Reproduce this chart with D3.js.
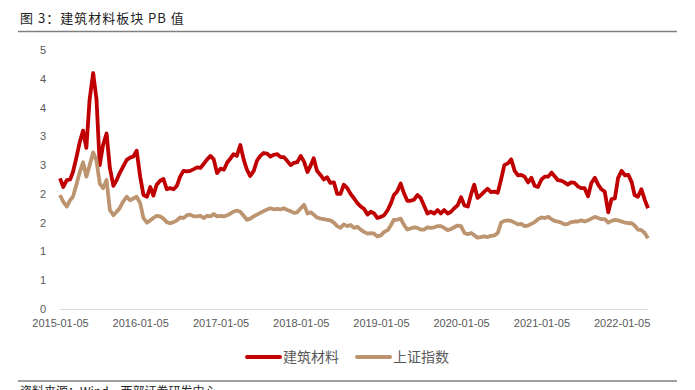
<!DOCTYPE html>
<html>
<head>
<meta charset="utf-8">
<script src="https://cdn.jsdelivr.net/npm/d3@7"></script>
<style>
  body { margin: 0; background: #fff; }
  svg { display: block; }
</style>
</head>
<body>
<div id="chart"></div>
<script>
// half-month sampling of the two PB series
var dates = [
  '2015-01-05','2015-01-20','2015-02-05','2015-02-20','2015-03-05','2015-03-20','2015-04-05','2015-04-20','2015-05-05','2015-05-20','2015-06-05','2015-06-20',
  '2015-07-05','2015-07-20','2015-08-05','2015-08-20','2015-09-05','2015-09-20','2015-10-05','2015-10-20','2015-11-05','2015-11-20','2015-12-05','2015-12-20',
  '2016-01-05','2016-01-20','2016-02-05','2016-02-20','2016-03-05','2016-03-20','2016-04-05','2016-04-20','2016-05-05','2016-05-20','2016-06-05','2016-06-20',
  '2016-07-05','2016-07-20','2016-08-05','2016-08-20','2016-09-05','2016-09-20','2016-10-05','2016-10-20','2016-11-05','2016-11-20','2016-12-05','2016-12-20',
  '2017-01-05','2017-01-20','2017-02-05','2017-02-20','2017-03-05','2017-03-20','2017-04-05','2017-04-20','2017-05-05','2017-05-20','2017-06-05','2017-06-20',
  '2017-07-05','2017-07-20','2017-08-05','2017-08-20','2017-09-05','2017-09-20','2017-10-05','2017-10-20','2017-11-05','2017-11-20','2017-12-05','2017-12-20',
  '2018-01-05','2018-01-20','2018-02-05','2018-02-20','2018-03-05','2018-03-20','2018-04-05','2018-04-20','2018-05-05','2018-05-20','2018-06-05','2018-06-20',
  '2018-07-05','2018-07-20','2018-08-05','2018-08-20','2018-09-05','2018-09-20','2018-10-05','2018-10-20','2018-11-05','2018-11-20','2018-12-05','2018-12-20',
  '2019-01-05','2019-01-20','2019-02-05','2019-02-20','2019-03-05','2019-03-20','2019-04-05','2019-04-20','2019-05-05','2019-05-20','2019-06-05','2019-06-20',
  '2019-07-05','2019-07-20','2019-08-05','2019-08-20','2019-09-05','2019-09-20','2019-10-05','2019-10-20','2019-11-05','2019-11-20','2019-12-05','2019-12-20',
  '2020-01-05','2020-01-20','2020-02-05','2020-02-20','2020-03-05','2020-03-20','2020-04-05','2020-04-20','2020-05-05','2020-05-20','2020-06-05','2020-06-20',
  '2020-07-05','2020-07-20','2020-08-05','2020-08-20','2020-09-05','2020-09-20','2020-10-05','2020-10-20','2020-11-05','2020-11-20','2020-12-05','2020-12-20',
  '2021-01-05','2021-01-20','2021-02-05','2021-02-20','2021-03-05','2021-03-20','2021-04-05','2021-04-20','2021-05-05','2021-05-20','2021-06-05','2021-06-20',
  '2021-07-05','2021-07-20','2021-08-05','2021-08-20','2021-09-05','2021-09-20','2021-10-05','2021-10-20','2021-11-05','2021-11-20','2021-12-05','2021-12-20',
  '2022-01-05','2022-01-20','2022-02-05','2022-02-20','2022-03-05','2022-03-20','2022-04-05','2022-04-20','2022-05-05'
];

var buildingMaterials = [
  2.27,2.12,2.24,2.25,2.38,2.62,2.90,3.10,2.80,3.65,4.10,3.65,
  2.50,2.85,3.05,2.45,2.14,2.24,2.37,2.48,2.59,2.63,2.65,2.75,
  2.30,1.98,1.95,2.12,1.97,2.16,2.23,2.26,2.08,2.10,2.08,2.14,
  2.30,2.40,2.39,2.40,2.43,2.46,2.45,2.52,2.60,2.66,2.60,2.36,
  2.44,2.42,2.55,2.62,2.69,2.66,2.85,2.60,2.42,2.31,2.40,2.58,
  2.66,2.71,2.70,2.65,2.68,2.69,2.64,2.64,2.57,2.50,2.54,2.55,
  2.66,2.56,2.38,2.50,2.62,2.40,2.33,2.25,2.29,2.19,2.20,2.00,
  2.00,2.16,2.10,2.00,1.92,1.84,1.78,1.74,1.64,1.69,1.66,1.58,
  1.60,1.63,1.72,1.84,1.98,2.04,2.18,2.01,1.88,1.88,1.90,1.98,
  1.93,1.80,1.66,1.69,1.66,1.72,1.66,1.72,1.66,1.69,1.75,1.80,
  1.94,1.80,1.78,2.00,2.16,1.93,1.98,2.04,2.09,2.03,2.04,2.02,
  2.25,2.50,2.53,2.60,2.40,2.32,2.33,2.30,2.20,2.28,2.14,2.12,
  2.25,2.30,2.30,2.37,2.31,2.24,2.23,2.20,2.16,2.20,2.19,2.13,
  2.10,2.10,1.96,2.19,2.28,2.16,2.08,2.04,1.68,1.91,1.92,2.28,
  2.40,2.32,2.33,2.20,1.98,1.95,2.08,1.90,1.75
];

var shanghaiIndex = [
  1.98,1.86,1.78,1.89,1.95,2.15,2.38,2.55,2.30,2.50,2.72,2.58,
  2.18,2.10,2.24,1.72,1.63,1.69,1.76,1.87,1.95,1.89,1.92,1.95,
  1.84,1.58,1.50,1.54,1.58,1.62,1.61,1.57,1.51,1.49,1.51,1.54,
  1.59,1.58,1.63,1.64,1.61,1.61,1.62,1.58,1.62,1.61,1.65,1.61,
  1.62,1.61,1.63,1.66,1.69,1.71,1.69,1.62,1.55,1.57,1.61,1.64,
  1.67,1.70,1.73,1.75,1.73,1.74,1.73,1.75,1.72,1.70,1.67,1.68,
  1.75,1.81,1.66,1.68,1.64,1.59,1.57,1.56,1.55,1.54,1.50,1.44,
  1.41,1.47,1.44,1.46,1.41,1.43,1.38,1.34,1.31,1.32,1.31,1.26,
  1.28,1.34,1.37,1.46,1.55,1.55,1.57,1.46,1.38,1.40,1.42,1.41,
  1.38,1.38,1.42,1.41,1.42,1.44,1.44,1.41,1.37,1.39,1.42,1.45,
  1.44,1.32,1.30,1.32,1.28,1.24,1.25,1.26,1.25,1.27,1.28,1.32,
  1.50,1.53,1.54,1.53,1.50,1.47,1.48,1.44,1.45,1.48,1.51,1.56,
  1.59,1.58,1.60,1.56,1.53,1.52,1.50,1.47,1.48,1.51,1.52,1.52,
  1.54,1.52,1.54,1.57,1.60,1.58,1.56,1.56,1.50,1.53,1.55,1.54,
  1.52,1.50,1.49,1.49,1.45,1.38,1.37,1.32,1.23
];

var seriesNames = ['建筑材料', '上证指数'];
var seriesColors = ['#C00000', '#BC9570'];
var yTicks = [0, 0.5, 1, 1.5, 2, 2.5, 3, 3.5, 4, 4.5];
var xTicks = ['2015-01-05','2016-01-05','2017-01-05','2018-01-05','2019-01-05','2020-01-05','2021-01-05','2022-01-05'];

var width = 695, height = 390;
var parse = d3.timeParse('%Y-%m-%d');
var cjk = '"Noto Sans CJK SC", "Noto Sans", sans-serif';

var svg = d3.select('#chart').append('svg')
  .attr('width', width)
  .attr('height', height);

// header and footer rules
svg.append('text')
  .attr('x', 20)
  .attr('y', 23)
  .attr('font-family', cjk)
  .attr('font-size', 13)
  .attr('letter-spacing', 1)
  .attr('fill', '#222')
  .text('图 3：建筑材料板块 PB 值');

svg.append('line')
  .attr('x1', 18).attr('x2', 677)
  .attr('y1', 31.5).attr('y2', 31.5)
  .attr('stroke', '#7f7f7f')
  .attr('stroke-width', 1.5);

svg.append('line')
  .attr('x1', 18).attr('x2', 677)
  .attr('y1', 381).attr('y2', 381)
  .attr('stroke', '#7f7f7f')
  .attr('stroke-width', 1.5);

// source line sits at the bottom edge, clipped like in the original page
svg.append('text')
  .attr('x', 20)
  .attr('y', 396)
  .attr('font-family', cjk)
  .attr('font-size', 12)
  .attr('fill', '#222')
  .text('资料来源：Wind，西部证券研发中心');

// scales
var x = d3.scaleTime()
  .domain([parse(dates[0]), parse(dates[dates.length - 1])])
  .range([60, 648]);

var y = d3.scaleLinear()
  .domain([0, 4.5])
  .range([309, 50]);

// y axis (labels only)
var yAxis = svg.append('g')
  .attr('transform', 'translate(46,0)')
  .call(d3.axisLeft(y).tickValues(yTicks).tickSize(0).tickPadding(0)
    .tickFormat(function(d) { return String(Math.round(d)); }));
yAxis.select('.domain').remove();
yAxis.selectAll('text')
  .attr('font-family', '"Liberation Sans", Arial, sans-serif')
  .attr('font-size', 11)
  .attr('fill', '#595959');

// x axis
var xAxis = svg.append('g')
  .attr('transform', 'translate(0,309)')
  .call(d3.axisBottom(x).tickValues(xTicks.map(parse)).tickSize(0).tickPadding(10)
    .tickFormat(d3.timeFormat('%Y-%m-%d')));
xAxis.select('.domain')
  .attr('stroke', '#d9d9d9')
  .attr('stroke-width', 1);
xAxis.selectAll('text')
  .attr('font-family', '"Liberation Sans", Arial, sans-serif')
  .attr('font-size', 11)
  .attr('fill', '#595959');

// lines
var line = d3.line()
  .x(function(d) { return x(d.date); })
  .y(function(d) { return y(d.value); });

[buildingMaterials, shanghaiIndex].forEach(function(values, i) {
  var data = values.map(function(v, j) { return {date: parse(dates[j]), value: v}; });
  svg.append('path')
    .datum(data)
    .attr('fill', 'none')
    .attr('stroke', seriesColors[i])
    .attr('stroke-width', 3.8)
    .attr('stroke-linejoin', 'round')
    .attr('d', line);
});

// legend
var legendX = [247, 357];
seriesNames.forEach(function(name, i) {
  var g = svg.append('g').attr('transform', 'translate(' + legendX[i] + ',357)');
  g.append('line')
    .attr('x1', 0).attr('x2', 33)
    .attr('stroke', seriesColors[i])
    .attr('stroke-width', 4)
    .attr('stroke-linecap', 'round');
  g.append('text')
    .attr('x', 36)
    .attr('y', 5)
    .attr('font-family', cjk)
    .attr('font-size', 14)
    .attr('fill', '#595959')
    .text(name);
});
</script>
</body>
</html>
